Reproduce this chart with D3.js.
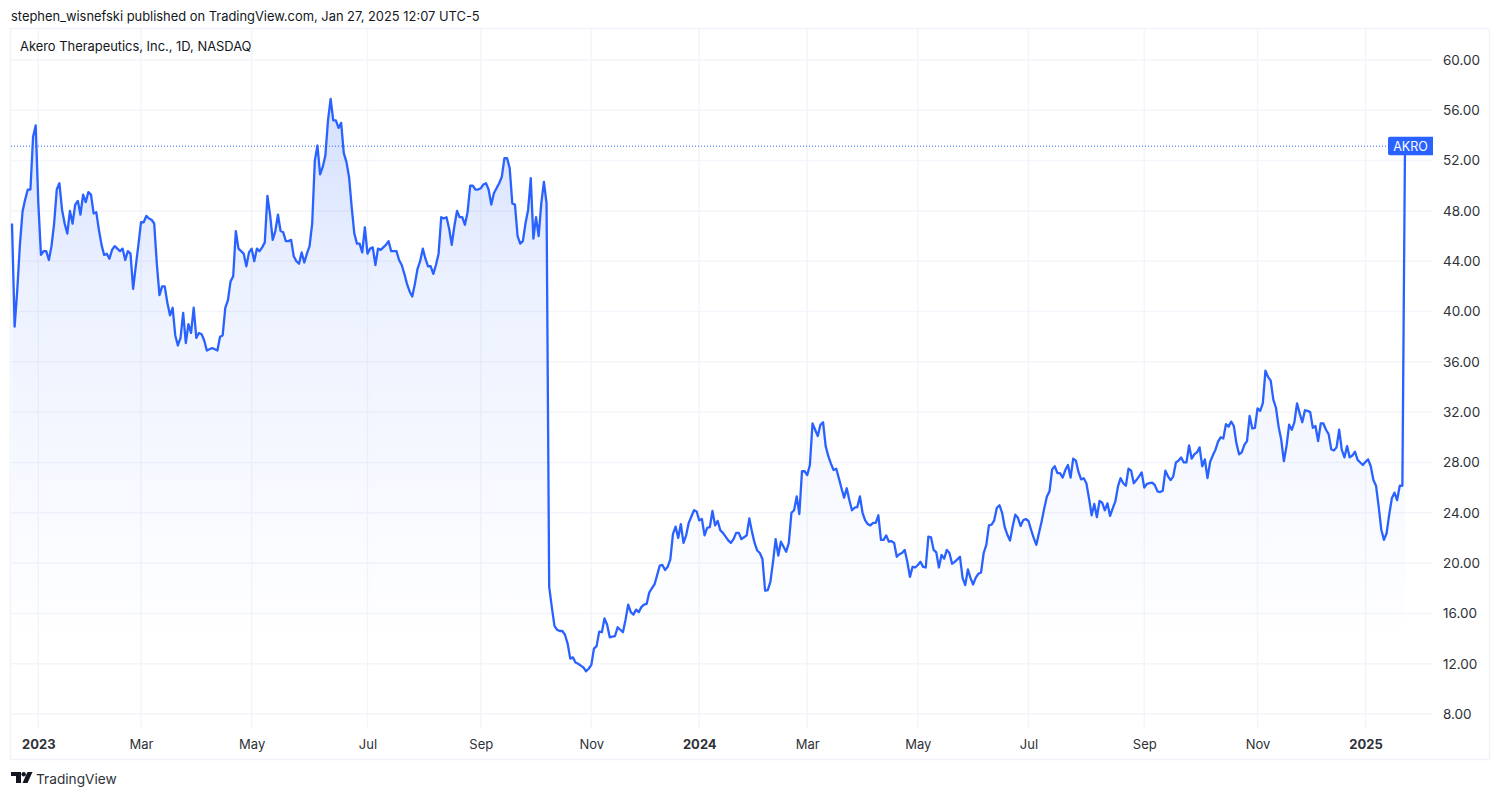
<!DOCTYPE html>
<html>
<head>
<meta charset="utf-8">
<style>
  html, body { margin: 0; padding: 0; background: #fff; }
  text { font-family: Inter, "Noto Sans", sans-serif; }
</style>
</head>
<body>
<div id="chart"></div>
<script src="https://cdn.jsdelivr.net/npm/d3@7"></script>
<script>
// Daily closes, one array per stretch of the chart
var closesEarly2023 = [47.0,38.8,41.7,45.3,47.95,48.9,49.7,49.7,53.9,54.8,
  48.6,44.5,44.8,44.8,44.1,45.2,47.0,49.7,50.2,48.1,
  47.0,46.2,48.0,47.0,48.5,48.8,47.7,49.3,48.7,49.5,
  49.3,47.8,47.9,46.5,45.3,44.5,44.6,44.2,44.9,45.2,
  45.0,44.8,45.0,44.1,44.8,44.6,41.8,43.6,45.3,47.1,
  47.1,47.6,47.4,47.3,47.0,43.8,41.3,42.0,42.0,40.7,
  39.7,40.3,38.1,37.3,37.9,39.9,37.5,39.0,38.3,40.3,
  37.9,38.3,38.2,37.7,36.9,37.0,37.1,37.0,36.9,38.0,
  38.1,40.3,40.9,42.4,42.8,46.4,45.0,44.8,44.6,43.6,
  44.7,45.0,44.0,45.0,44.8,45.1,45.5,49.2,47.7,45.7,
  46.4,47.7];

var closesMid2023 = [46.4,46.3,45.6,45.6,45.7,44.4,44.0,43.8,44.7,43.9,
  44.6,45.2,47.0,52.0,53.2,50.9,51.5,52.4,55.2,56.9,
  55.2,55.2,54.6,55.0,52.6,51.9,50.7,48.3,46.2,45.4,
  45.4,44.7,46.7,44.6,45.0,45.1,43.7,45.0,44.9,45.1,
  45.3,45.6,44.8,44.8,44.8,44.1,43.7,43.0,42.2,41.6,
  41.2,42.2,43.4,44.0,45.0,44.2,43.6,43.6,43.0,43.7,
  44.6,47.5,47.4,47.5,46.6,45.3,46.8,48.0,47.5,47.5,
  46.9,47.9,50.0,50.0,49.7,49.7,49.8,50.1,50.2,49.7,
  48.5,49.4,49.8,50.2,50.7,52.2,52.2,51.4,48.6,48.5,
  46.0,45.4,45.6,47.0,48.1,50.6,45.8,47.5,46.0,48.6,
  50.3,48.6];

var closesLate2023 = [18.1,16.5,15.0,14.7,14.6,14.6,14.3,13.6,12.4,12.5,
  12.1,12.0,11.85,11.7,11.4,11.6,11.9,13.2,13.4,14.55,
  14.5,15.6,15.1,14.1,14.15,14.2,14.9,14.7,14.5,15.5,
  16.7,16.1,15.9,16.3,16.1,16.5,16.7,16.75,17.65,18.0,
  18.3,19.05,19.8,19.85,19.45,19.7,20.3,22.3,22.9,22.0,
  23.1,21.6,22.2,23.2,23.7,24.2,24.1,23.4,23.5,22.2,
  22.8,22.85,24.15,23.0,23.35,22.6,22.4,22.1,21.8,21.6,
  21.9,22.4,22.4,21.9,22.05,22.2,23.55,22.5,21.6,21.0,
  20.8,20.3,17.8,17.85,18.5,20.1,21.9,20.6,21.7,21.3,
  20.9,21.6,24.0,24.2,25.3,23.9];

var closesEarly2024 = [27.3,27.3,27.0,27.8,31.1,30.6,30.1,31.0,31.2,29.3,
  28.5,27.9,27.4,27.5,26.75,25.95,25.2,25.95,25.0,24.2,
  24.4,24.45,25.3,24.0,23.4,23.1,23.0,23.2,23.2,23.8,
  21.85,21.85,22.2,21.7,21.75,21.6,20.5,20.7,20.8,21.05,
  20.1,18.9,19.7,19.65,19.85,20.1,19.7,19.65,22.1,22.05,
  21.05,20.85,19.65,20.65,20.35,21.05,20.8,19.95,20.1,20.3,
  20.5,18.8,18.25,19.5,18.8,18.3,18.85,19.15,19.25,20.8,
  21.45,23.0,23.05,23.4,24.4,24.6,24.0,22.85,22.25,21.8];

var closesMid2024 = [22.9,23.85,23.6,22.95,23.4,23.5,23.35,22.65,22.0,21.45,
  22.4,23.3,24.35,25.3,25.7,27.45,27.7,27.15,27.15,26.8,
  27.4,27.8,26.8,28.3,28.15,27.25,26.65,26.75,26.35,25.15,
  23.8,24.7,23.65,24.95,24.8,24.2,24.75,23.75,24.35,24.9,
  26.1,26.75,26.35,26.15,27.5,27.35,26.35,26.6,26.9,27.2,
  26.0,26.3,26.35,26.4,26.2,25.7,25.65,25.75,27.35,26.9,
  26.6,26.9,28.0,28.15,28.4,28.0,28.0,29.35,28.3,28.65,
  28.8,29.2];

var closesLate2024 = [27.7,28.25,26.75,28.05,28.55,29.0,29.65,30.0,29.9,31.05,
  30.85,31.25,30.9,29.5,28.65,28.8,29.4,29.7,31.7,30.7,
  30.75,32.3,32.1,32.7,35.3,34.8,34.5,33.0,32.35,30.85,
  29.8,28.1,29.3,31.0,30.6,31.2,32.7,31.9,31.2,32.15,
  32.1,32.0,30.75,30.9,29.7,31.1,31.1,30.6,30.25,29.05,
  28.95,29.2,30.6,29.0,28.4,29.3,28.4,28.55,28.85,28.2,
  28.0,27.8,28.05,28.25,27.7];

var closes2025 = [26.6,26.15,24.5,22.65,21.85,22.35,23.85,25.15,25.6,25.0,26.15,26.15,53.2];

var closes = [].concat(closesEarly2023, closesMid2023, closesLate2023, closesEarly2024, closesMid2024, closesLate2024, closes2025);

// Month ticks, given as the bar each one lands on
var monthLabels = ["2023","Mar","May","Jul","Sep","Nov","2024","Mar","May","Jul","Sep","Nov","2025"];
var monthBars = [10,49,91,135,178,220,261,302,344,386,430,473,514];
var priceTicks = [8,12,16,20,24,28,32,36,40,44,48,52,56,60];
var lastPrice = 53.15;

var width = 1500, height = 797;
var left = 11, plotRight = 1433, frameRight = 1489, frameTop = 29, frameBottom = 759, axisBottom = 728;

var x = d3.scaleLinear().domain([0, closes.length - 1]).range([12, 1405]);
var y = d3.scaleLinear().domain([8, 60]).range([714, 60]);

var svg = d3.select("#chart").append("svg")
    .attr("width", width)
    .attr("height", height)
    .style("display", "block");

var defs = svg.append("defs");
var grad = defs.append("linearGradient")
    .attr("id", "fade")
    .attr("gradientUnits", "userSpaceOnUse")
    .attr("x1", 0).attr("x2", 0)
    .attr("y1", y(d3.max(closes))).attr("y2", 640);
grad.append("stop").attr("offset", 0).attr("stop-color", "#2962ff").attr("stop-opacity", 0.2);
grad.append("stop").attr("offset", 0.35).attr("stop-color", "#2962ff").attr("stop-opacity", 0.085);
grad.append("stop").attr("offset", 1).attr("stop-color", "#2962ff").attr("stop-opacity", 0);

// Frame
svg.append("rect")
    .attr("x", left - 0.5).attr("y", frameTop - 0.5)
    .attr("width", frameRight - left + 1).attr("height", frameBottom - frameTop + 1)
    .attr("fill", "none").attr("stroke", "#f0f3fa").attr("stroke-width", 1.5);

// Gridlines
svg.append("g").selectAll("line").data(priceTicks).enter().append("line")
    .attr("x1", left).attr("x2", plotRight)
    .attr("y1", function(d) { return y(d); })
    .attr("y2", function(d) { return y(d); })
    .attr("stroke", "#f3f5fa").attr("stroke-width", 1.5);

svg.append("g").selectAll("line").data(monthBars).enter().append("line")
    .attr("x1", function(d) { return x(d); })
    .attr("x2", function(d) { return x(d); })
    .attr("y1", frameTop).attr("y2", axisBottom)
    .attr("stroke", "#f3f5fa").attr("stroke-width", 1.5);

// Area under the line, then the line
var area = d3.area()
    .x(function(d, i) { return x(i); })
    .y0(axisBottom)
    .y1(function(d) { return y(d); });

var line = d3.line()
    .x(function(d, i) { return x(i); })
    .y(function(d) { return y(d); });

svg.append("path").datum(closes).attr("d", area).attr("fill", "url(#fade)");

// Last price line and tag
svg.append("line")
    .attr("x1", left).attr("x2", plotRight - 44)
    .attr("y1", y(lastPrice)).attr("y2", y(lastPrice))
    .attr("stroke", "#2962ff").attr("stroke-width", 1).attr("stroke-dasharray", "1 2");

svg.append("path").datum(closes).attr("d", line)
    .attr("fill", "none")
    .attr("stroke", "#2962ff")
    .attr("stroke-width", 2.3)
    .attr("stroke-linejoin", "round");

svg.append("rect")
    .attr("x", plotRight - 45).attr("y", y(lastPrice) - 9.5)
    .attr("width", 48).attr("height", 18.5).attr("rx", 2)
    .attr("fill", "#2962ff");
svg.append("rect")
    .attr("x", plotRight).attr("y", y(lastPrice) - 10)
    .attr("width", 4).attr("height", 20)
    .attr("fill", "#fff");
svg.append("text")
    .attr("x", plotRight - 22.5).attr("y", y(lastPrice) + 4.5)
    .attr("text-anchor", "middle")
    .attr("font-size", 12.5)
    .attr("fill", "#fff")
    .text("AKRO");

// Axes
var yAxis = d3.axisRight(y)
    .tickValues(priceTicks)
    .tickSize(0)
    .tickPadding(0)
    .tickFormat(d3.format(".2f"));

svg.append("g")
    .attr("transform", "translate(1443,0)")
    .call(yAxis)
    .call(function(g) { g.select(".domain").remove(); })
    .selectAll("text")
    .attr("font-family", "Inter")
    .attr("font-size", 13.5)
    .attr("fill", "#2e3238");

var xAxis = d3.axisBottom(x)
    .tickValues(monthBars)
    .tickSize(0)
    .tickPadding(0)
    .tickFormat(function(d, i) { return monthLabels[i]; });

svg.append("g")
    .attr("transform", "translate(0,740)")
    .call(xAxis)
    .call(function(g) { g.select(".domain").remove(); })
    .selectAll("text")
    .attr("font-family", "Inter")
    .attr("font-size", 13)
    .attr("fill", "#2e3238")
    .attr("font-weight", function(d, i) { return /^\d/.test(monthLabels[i]) ? 700 : 400; });

// Header and title
svg.append("text")
    .attr("x", 11).attr("y", 21)
    .attr("font-size", 12.9)
    .attr("fill", "#131722")
    .text("stephen_wisnefski published on TradingView.com, Jan 27, 2025 12:07 UTC-5");

svg.append("text")
    .attr("x", 20).attr("y", 51)
    .attr("font-size", 12.9)
    .attr("fill", "#131722")
    .text("Akero Therapeutics, Inc., 1D, NASDAQ");

// Footer logo
var logo = svg.append("g").attr("transform", "translate(11,772)").attr("fill", "#131722");
logo.append("path").attr("d", "M0 0H10V11H5V4H0Z");
logo.append("circle").attr("cx", 12.7).attr("cy", 2.2).attr("r", 2.2);
logo.append("path").attr("d", "M16.5 0H21.5L16.5 11H11.5Z");

svg.append("text")
    .attr("x", 36).attr("y", 784)
    .attr("font-size", 13.7)
    .attr("fill", "#2e3238")
    .text("TradingView");
</script>
</body>
</html>
